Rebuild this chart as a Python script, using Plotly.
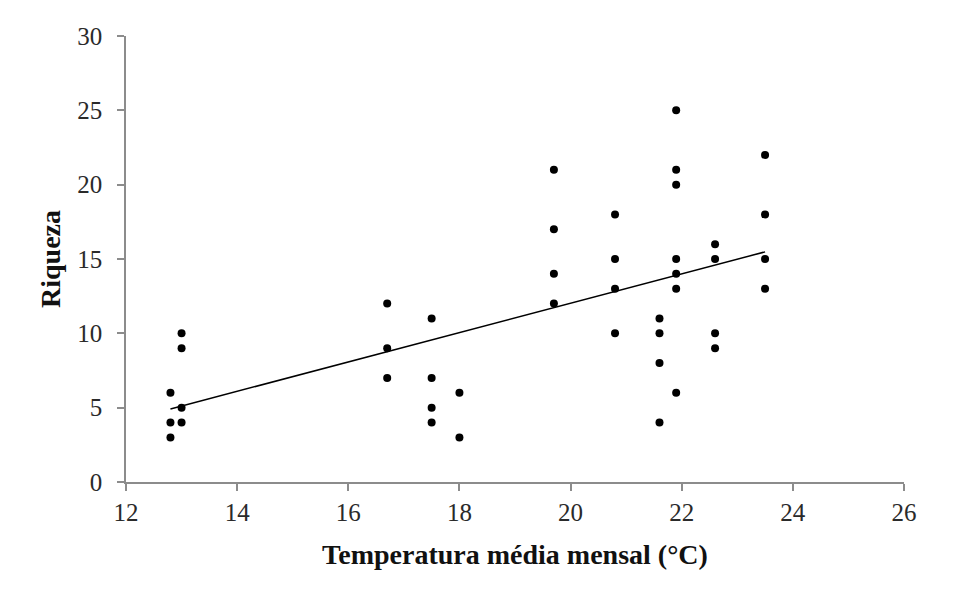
import numpy as np
import plotly.graph_objects as go

temperatura = [12.8, 12.8, 12.8,
               13.0, 13.0, 13.0, 13.0,
               16.7, 16.7, 16.7,
               17.5, 17.5, 17.5, 17.5,
               18.0, 18.0,
               19.7, 19.7, 19.7, 19.7,
               20.8, 20.8, 20.8, 20.8,
               21.6, 21.6, 21.6, 21.6,
               21.9, 21.9, 21.9, 21.9, 21.9, 21.9, 21.9,
               22.6, 22.6, 22.6, 22.6,
               23.5, 23.5, 23.5, 23.5]
riqueza = [6, 4, 3,
           10, 9, 5, 4,
           12, 9, 7,
           11, 7, 5, 4,
           6, 3,
           21, 17, 14, 12,
           18, 15, 13, 10,
           11, 10, 8, 4,
           25, 21, 20, 15, 14, 13, 6,
           16, 15, 10, 9,
           22, 18, 15, 13]

x_ticks = [12, 14, 16, 18, 20, 22, 24, 26]
y_ticks = [0, 5, 10, 15, 20, 25, 30]

slope, intercept = np.polyfit(temperatura, riqueza, 1)
x_fit = np.array([min(temperatura), max(temperatura)])
y_fit = slope * x_fit + intercept

fig = go.Figure()
fig.add_trace(go.Scatter(x=x_fit, y=y_fit, mode="lines",
                         line=dict(color="black", width=1.5), hoverinfo="skip"))
fig.add_trace(go.Scatter(x=temperatura, y=riqueza, mode="markers",
                         marker=dict(color="black", size=8)))

axis_common = dict(showgrid=False, zeroline=False, showline=True,
                   linecolor="#8c8c8c", linewidth=1.5, ticks="outside",
                   tickcolor="#8c8c8c", ticklen=7, tickwidth=1.5,
                   tickfont=dict(family="Liberation Serif", size=25, color="#2a2a2a"))

fig.update_layout(
    width=976, height=590,
    paper_bgcolor="white", plot_bgcolor="white",
    showlegend=False,
    margin=dict(l=118, r=80, t=28, b=116),
    xaxis=dict(range=[12, 26], tickvals=x_ticks, **axis_common,
               ticklabelstandoff=0,
               title=dict(text="<b>Temperatura média mensal (°C)</b>",
                          font=dict(family="Liberation Serif", size=28, color="#111"),
                          standoff=20)),
    yaxis=dict(range=[0, 30], tickvals=y_ticks, **axis_common,
               ticklabelstandoff=10,
               title=dict(text="<b>Riqueza</b>",
                          font=dict(family="Liberation Serif", size=28, color="#111"),
                          standoff=8)),
)

fig.write_html("out.html")
